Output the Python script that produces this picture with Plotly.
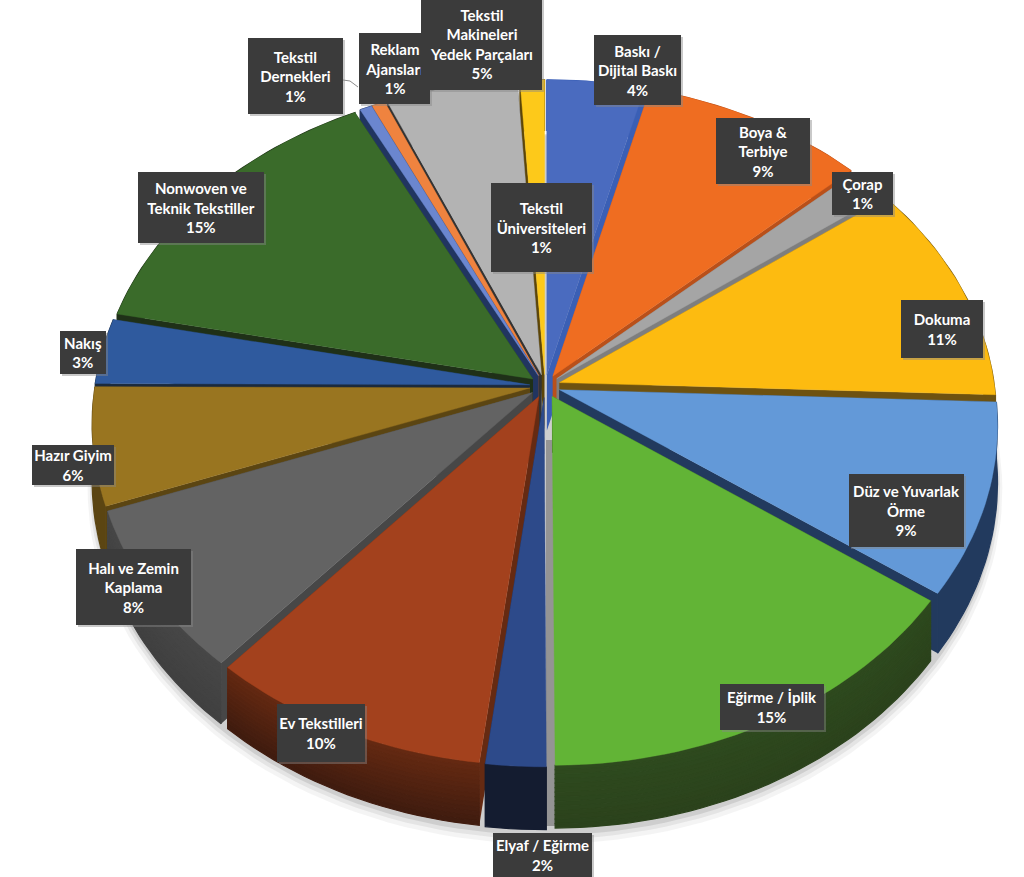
import math
import plotly.graph_objects as go

# ---- data (clockwise from 12 o'clock) ----
categories = ["Baskı /<br>Dijital Baskı", "Boya &<br>Terbiye", "Çorap", "Dokuma",
              "Düz ve Yuvarlak<br>Örme", "Eğirme / İplik", "Elyaf / Eğirme", "Ev Tekstilleri",
              "Halı ve Zemin<br>Kaplama", "Hazır Giyim", "Nakış", "Nonwoven ve<br>Teknik Tekstiller",
              "Tekstil<br>Dernekleri", "Reklam<br>Ajansları", "Tekstil<br>Makineleri<br>Yedek Parçaları",
              "Tekstil<br>Üniversiteleri"]
shares = [4.0, 9.2, 1.6, 10.8, 9.3, 15.05, 2.0, 9.45, 8.0, 5.7, 3.2, 14.3, 0.5, 0.55, 5.4, 1.0]
percent_labels = ["4%", "9%", "1%", "11%", "9%", "15%", "2%", "10%", "8%", "6%", "3%", "15%", "1%", "1%", "5%", "1%"]

top_colors = ["#4a6bbf", "#ef6d21", "#a5a5a5", "#fdbb10", "#6399d8", "#62b436", "#2d4a8a", "#a3411d",
              "#636363", "#997520", "#2f5a9e", "#3a6b2a", "#6b86cf", "#ef833f", "#b3b3b3", "#fdc91a"]
wall_colors = ["#3a5fb5", "#b9501a", "#7e7e7e", "#6e5210", "#223a5e", "#2e4a1e", "#141c30", "#652a12",
               "#474747", "#5b4512", "#1b2a3c", "#1f3018", "#213560", "#8b4a20", "#333333", "#5c4508"]
wall_low = ["#3a5fb5", "#b9501a", "#7e7e7e", "#6e5210", "#223a5e", "#2b421c", "#141c30", "#3f1b0f",
            "#404040", "#5b4512", "#1b2a3c", "#1f3018", "#213560", "#8b4a20", "#333333", "#5c4508"]

# label boxes: x0, y0, x1, y1 in the picture
boxes = [(594, 35, 681, 105), (716, 118, 810, 184), (832, 172, 893, 215), (901, 300, 983, 358),
         (849, 474, 964, 547), (720, 684, 824, 730), (493, 833, 592, 877), (277, 704, 365, 762),
         (76, 549, 191, 625), (32, 445, 114, 485), (60, 331, 106, 374), (138, 172, 264, 243),
         (248, 38, 343, 114), (359, 33, 430, 104), (421, -2, 542, 90), (491, 183, 592, 272)]

# projection of the tilted disc
CX, CY, A, B, K, DEPTH, EXPLODE = 545, 386, 435, 328, 0.105, 56, 0.035


def proj(u, v, z=0.0):
    w = 1 + K * v
    return CX + A * u / w, CY - B * v / w + z * DEPTH / w


def hexmix(c1, c2, f):
    a = [int(c1[i:i + 2], 16) for i in (1, 3, 5)]
    b = [int(c2[i:i + 2], 16) for i in (1, 3, 5)]
    return "#%02x%02x%02x" % tuple(round(x + (y - x) * f) for x, y in zip(a, b))


def poly(points, color, opacity=1.0, lw=0.0):
    xs = [p[0] for p in points] + [points[0][0]]
    ys = [p[1] for p in points] + [points[0][1]]
    return go.Scatter(x=xs, y=ys, mode="lines", fill="toself", fillcolor=color, opacity=opacity,
                      line=dict(width=lw, color=color), hoverinfo="skip", showlegend=False)


total = sum(shares)
slices, start = [], 0.0
for i, s in enumerate(shares):
    a0 = start / total * 2 * math.pi
    a1 = (start + s) / total * 2 * math.pi
    slices.append((i, a0, a1))
    start += s

fig = go.Figure()

# soft shadow under the pie
for r, dz, op in [(1.045, 1.16, 0.08), (1.04, 1.12, 0.12), (1.036, 1.08, 0.2)]:
    ring = [proj(r * math.sin(t / 90 * math.pi), r * math.cos(t / 90 * math.pi), dz) for t in range(180)]
    fig.add_trace(poly(ring, "#777777", op))

# painter's order: back slices first
for i, a0, a1 in sorted(slices, key=lambda q: -math.cos((q[1] + q[2]) / 2)):
    mid = (a0 + a1) / 2
    ax, ay = EXPLODE * math.sin(mid), EXPLODE * math.cos(mid)
    n = max(3, int((a1 - a0) * 40))
    arc = [(ax + math.sin(a0 + (a1 - a0) * j / n), ay + math.cos(a0 + (a1 - a0) * j / n)) for j in range(n + 1)]
    # radial walls
    for e in (arc[0], arc[-1]):
        fig.add_trace(poly([proj(ax, ay), proj(*e), proj(*e, 1), proj(ax, ay, 1)], wall_colors[i]))
    # outer wall, in bands only where it is shaded
    bands = 14 if wall_colors[i] != wall_low[i] else 1
    for b in range(bands):
        z0, z1 = b / bands, (b + 1) / bands
        col = hexmix(wall_colors[i], wall_low[i], (b + 0.5) / bands)
        fig.add_trace(poly([proj(*p, z0) for p in arc] + [proj(*p, z1) for p in reversed(arc)], col, lw=1.2))
    # top face
    fig.add_trace(poly([proj(ax, ay)] + [proj(*p) for p in arc], top_colors[i], lw=0.4))

shapes = [dict(type="rect", x0=546, x1=556, y0=440, y1=826, fillcolor="#a6a6a6", line_width=0, layer="below")]
annotations = []
for i in range(len(categories)):
    x0, y0, x1, y1 = boxes[i]
    shapes.append(dict(type="rect", x0=x0 + 2, x1=x1 + 2, y0=y0 + 2, y1=y1 + 2, fillcolor="#888888",
                       opacity=0.45, line_width=0, layer="above"))
    annotations.append(dict(x=(x0 + x1) / 2, y=(y0 + y1) / 2, xref="x", yref="y", showarrow=False,
                            text="<b>%s<br>%s</b>" % (categories[i], percent_labels[i]),
                            width=x1 - x0, height=y1 - y0, bgcolor="#3b3b3b", align="center", valign="middle",
                            borderpad=0, borderwidth=0,
                            font=dict(family="Lato", size=15, color="#ffffff")))
for xs, ys in [((343, 350, 358), (80, 81, 87))]:
    fig.add_trace(go.Scatter(x=xs, y=ys, mode="lines", line=dict(color="#8c8c8c", width=1),
                             hoverinfo="skip", showlegend=False))

fig.update_layout(width=1024, height=877, margin=dict(l=0, r=0, t=0, b=0), autosize=False,
                  paper_bgcolor="#ffffff", plot_bgcolor="#ffffff", showlegend=False,
                  xaxis=dict(range=[0, 1024], visible=False, fixedrange=True),
                  yaxis=dict(range=[877, 0], visible=False, fixedrange=True),
                  shapes=shapes, annotations=annotations)
fig.write_html("out.html", post_script="document.body.style.margin='0';document.body.style.overflow='hidden';",
               config={"displayModeBar": False})
